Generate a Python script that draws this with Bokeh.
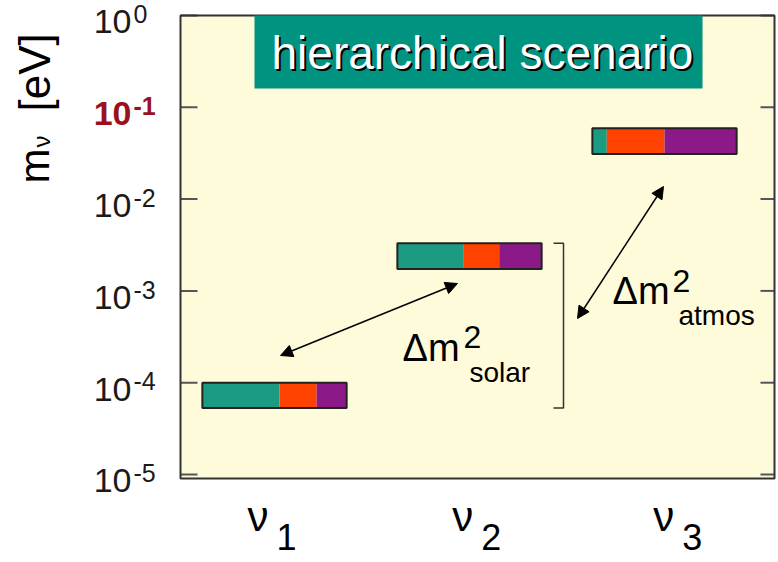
import math
from bokeh.plotting import figure
from bokeh.models import Range1d, Label, Arrow, NormalHead, BoxAnnotation
from bokeh.embed import file_html
from bokeh.resources import INLINE

# ---------------- data ----------------
nu_pos = [1, 2, 3]
nu_names = ["ν", "ν", "ν"]
nu_subs = ["1", "2", "3"]
nu_label_x = [0.98, 2.03, 3.06]
mass_low = [5.3e-5, 1.73e-3, 3.1e-2]
mass_high = [1.0e-4, 3.3e-3, 5.9e-2]
frac_e = [0.535, 0.456, 0.10]
frac_mu = [0.257, 0.250, 0.40]
frac_tau = [0.208, 0.294, 0.50]
ytick_vals = [1e0, 1e-1, 1e-2, 1e-3, 1e-4, 1e-5]
ytick_exps = ["0", "-1", "-2", "-3", "-4", "-5"]
title_text = "hierarchical scenario"

# ---------------- style ----------------
FONT = "Liberation Sans"
C_E, C_MU, C_TAU = "#1a9b82", "#ff4200", "#8b1a88"
BG = "#fefbdb"
BAR_W = 0.74
W, H = 776, 560
PX_PER_X = 195.0
PX_PER_DEC = 91.8
BASE_FIX = 0.37  # baseline correction (fraction of font size)


def dx(px):
    return 1 + (px - 274) / PX_PER_X


def dy(py):
    return 10 ** (-(py - 15) / PX_PER_DEC)


def py_of(v):
    return 15 - PX_PER_DEC * math.log10(v)


# plot-area bounds
AX_L, AX_R = dx(180), dx(774)
AX_T, AX_B = 1.0, dy(478)

p = figure(width=W, height=H, y_axis_type="log",
           x_range=Range1d(dx(0), dx(W)), y_range=Range1d(dy(H), dy(0)),
           x_axis_location=None, y_axis_location=None,
           output_backend="svg", toolbar_location=None, min_border=0)
p.background_fill_color = "white"
p.border_fill_color = "white"
p.outline_line_color = None
p.xgrid.visible = False
p.ygrid.visible = False

# plot area background
p.quad(left=[AX_L], right=[AX_R], bottom=[AX_B], top=[AX_T], fill_color=BG, line_color=None)

# ticks (inside, left and right)
n = len(ytick_vals)
p.segment(x0=[AX_L] * n, x1=[dx(197)] * n, y0=ytick_vals, y1=ytick_vals,
          line_color="#555555", line_width=2)
p.segment(x0=[dx(760)] * n, x1=[AX_R] * n, y0=ytick_vals, y1=ytick_vals,
          line_color="#555555", line_width=2)

# title box
p.add_layout(BoxAnnotation(left=dx(254), right=dx(702), bottom=dy(88), top=AX_T,
                           fill_color="#00937f", fill_alpha=1.0, line_color=None))

# ---------------- bars ----------------
lefts = [x - BAR_W / 2 for x in nu_pos]
e_r = [l + BAR_W * f for l, f in zip(lefts, frac_e)]
mu_r = [l + BAR_W * f for l, f in zip(e_r, frac_mu)]
tau_r = [x + BAR_W / 2 for x in nu_pos]

p.quad(left=lefts, right=e_r, bottom=mass_low, top=mass_high, fill_color=C_E, line_color=None)
p.quad(left=e_r, right=mu_r, bottom=mass_low, top=mass_high, fill_color=C_MU, line_color=None)
p.quad(left=mu_r, right=tau_r, bottom=mass_low, top=mass_high, fill_color=C_TAU, line_color=None)
p.quad(left=lefts, right=tau_r, bottom=mass_low, top=mass_high, fill_color=None,
       line_color="#222222", line_width=2)

# bracket from nu1 bottom to nu2 top
p.line(x=[dx(553), dx(563), dx(563), dx(553)],
       y=[mass_high[1], mass_high[1], mass_low[0], mass_low[0]],
       line_color="#333333", line_width=1.5)

# plot-area outline
p.quad(left=[AX_L], right=[AX_R], bottom=[AX_B], top=[AX_T], fill_color=None,
       line_color="#333333", line_width=2)

# arrows
for (xs, ys, xe, ye) in [(280, 355, 457, 283), (577, 318, 663, 186)]:
    p.add_layout(Arrow(start=NormalHead(size=12, fill_color="black", line_color="black"),
                       end=NormalHead(size=12, fill_color="black", line_color="black"),
                       x_start=dx(xs), y_start=dy(ys), x_end=dx(xe), y_end=dy(ye),
                       line_width=1.5, line_color="black"))


def lab(px, py, text, size, color="black", align="left", style="normal", rot=False):
    """px, py: pixel position of the text's baseline anchor."""
    if rot:
        x, y, ang = dx(px - BASE_FIX * size), dy(py), math.pi / 2
    else:
        x, y, ang = dx(px), dy(py - BASE_FIX * size), 0
    p.add_layout(Label(x=x, y=y, text=text,
                       text_font=FONT, text_font_size=f"{size}px", text_color=color,
                       text_align=align, text_baseline="alphabetic",
                       text_font_style=style, angle=ang))


# title text with shadow
lab(273, 72, title_text, 46, color="black")
lab(271, 70, title_text, 46, color="white")

# delta m labels
lab(402, 362, "Δm", 38)
lab(463, 348, "2", 32)
lab(469, 382, "solar", 28)
lab(612, 305, "Δm", 38)
lab(672, 292, "2", 32)
lab(678, 325, "atmos", 28)

# y tick labels
for t, e in zip(ytick_vals, ytick_exps):
    red = (e == "-1")
    col = "#9b1020" if red else "#1a1a1a"
    sty = "bold" if red else "normal"
    ty = py_of(t)
    lab(131, ty + 19, "10", 34, color=col, align="right", style=sty)
    lab(133, ty + 8, e, 25, color=col, align="left", style=sty)

# y axis title (rotated)
lab(50, 183, "m", 42, rot=True)
lab(50, 147, "ν", 24, rot=True)
lab(50, 111, "[eV]", 44, rot=True)

# x labels
for xl, nm, s in zip(nu_label_x, nu_names, nu_subs):
    cx = 274 + (xl - 1) * PX_PER_X
    lab(cx - 23, 532, nm, 42)
    lab(cx + 6, 550, s, 36)

open("out.html", "w").write(file_html(p, INLINE))
